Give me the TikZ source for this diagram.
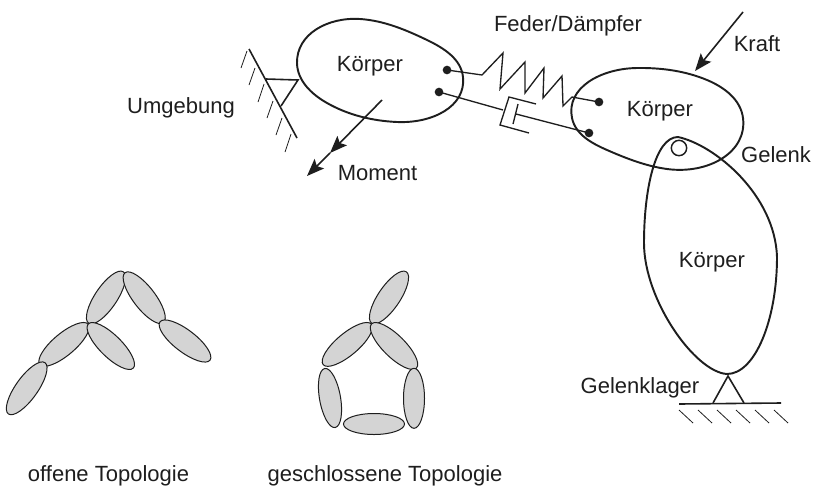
\documentclass[tikz,border=0pt]{standalone}
\usepackage{fontspec}
\setmainfont{Liberation Sans}
\usetikzlibrary{shapes.geometric,arrows.meta,hobby}
\definecolor{ink}{HTML}{1E1E1E}
\tikzset{
  x=0.75pt,y=-0.75pt,
  outline/.style={draw=ink,line width=1.45pt,line join=round},
  body/.style={outline,use Hobby shortcut,closed=true},
  thick line/.style={draw=ink,line width=1.2pt,line join=miter},
  mid line/.style={draw=ink,line width=1pt,line join=miter},
  hatch/.style={draw=ink,line width=0.6pt},
  lab/.style={text=ink,font=\fontsize{16.5}{18}\selectfont,anchor=base,inner sep=0pt},
  dot/.style={circle,fill=ink,draw=none,minimum size=6.5pt,inner sep=0pt},
  pin/.style={circle,draw=ink,line width=1.1pt,fill=none,minimum size=11.5pt,inner sep=0pt},
  lens/.style n args={3}{ellipse,draw=ink,line width=0.75pt,fill=black!17,inner sep=0pt,rotate=#1,minimum width=#2*0.75pt,minimum height=#3*0.75pt},
  tipa/.style={-{Stealth[length=13pt,width=10pt,inset=2.5pt]}},
}
\begin{document}
\begin{tikzpicture}
\useasboundingbox (0,0) rectangle (813,486);
% bodies
\draw[body] (297,63)..(360,19)..(427,40)..(463,77)..(397,122)..(327,103);
\draw[body] (572,118)..(637,68)..(707,80)..(743,118)..(667,169)..(607,150);
\draw[outline] (678,137) .. controls (715,145) and (775,195) .. (777,257)
  .. controls (777,320) and (755,374) .. (727,374)
  .. controls (695,372) and (644,300) .. (644,243)
  .. controls (644,190) and (655,137) .. (678,137) -- cycle;
% wall
\coordinate (w1) at (249,49); \coordinate (w2) at (297,138);
\coordinate (t1) at (266,79); \coordinate (t2) at (298,80); \coordinate (t3) at (281,106);
\draw[thick line] (w1) -- (w2);
\draw[thick line] (t1) -- (t2) -- (t3);
\foreach \a/\b/\c/\d in {247/51/241/68,255/68/249/85,264/84/258/102,273/101/267/118,282/118/276/135,291/134/285/152}
  \draw[hatch] (\a,\b) -- (\c,\d);
% moment
\coordinate (m0) at (382,100); \coordinate (m1) at (330,153); \coordinate (m2) at (307,176);
\draw[thick line,tipa] (m0) -- (m1);
\draw[thick line,tipa] (m1) -- (m2);
% force
\coordinate (f0) at (743,12); \coordinate (f1) at (695,71);
\draw[thick line,tipa] (f0) -- (f1);
% dots
\node[dot] (d1) at (447,70) {};
\node[dot] (d2) at (439,92) {};
\node[dot] (d3) at (599,102) {};
\node[dot] (d4) at (589,133) {};
% spring
\draw[mid line] (d1.center) -- (482,75) -- (503,53) -- (500,89) -- (525,62) -- (525,93) -- (544,68) -- (543,98) -- (562,76) -- (563,106) -- (572,97) -- (d3.center);
% damper
\coordinate (c1) at (503,110); \coordinate (c2) at (516,114);
\draw[mid line] (d2.center) -- (c1);
\draw[mid line] (536,104) -- (509,97) -- (500,125) -- (529,133);
\draw[mid line] (518,104) -- (513,124);
\draw[mid line] (c2) -- (d4.center);
% joint
\node[pin] (j) at (679,148) {};
% bearing
\coordinate (b0) at (728,376); \coordinate (b1) at (713,403); \coordinate (b2) at (744,403);
\coordinate (g1) at (679,404); \coordinate (g2) at (781,403);
\draw[thick line] (b1) -- (b0) -- (b2);
\draw[thick line] (g1) -- (g2);
\foreach \i in {0,...,5}
  \draw[hatch] ({679+19*\i},410) -- ({693+19*\i},423);
% open topology
\node[lens={56}{62}{22}] (o1) at (106,297.5) {};
\node[lens={-52.5}{63}{22}] (o2) at (144.2,297.7) {};
\node[lens={40}{63}{22}] (o3) at (64,344.4) {};
\node[lens={-44.6}{63}{22}] (o4) at (110.8,346) {};
\node[lens={-37.5}{63}{22}] (o5) at (185,341) {};
\node[lens={54.5}{63}{22}] (o6) at (26.7,388.3) {};
% closed topology
\node[lens={56}{62}{22}] (c-1) at (389,297.5) {};
\node[lens={40}{63}{22}] (c-2) at (347.3,344.4) {};
\node[lens={-44.6}{63}{22}] (c-3) at (394,346) {};
\node[lens={90}{60}{21}] (c-4) at (414,398.3) {};
\node[lens={0}{61}{21}] (c-5) at (374,424) {};
\node[lens={-80}{60}{21}] (c-6) at (330,398) {};
% labels
\node[lab] (k1) at (370,71) {Körper};
\node[lab] (k2) at (660,116) {Körper};
\node[lab] (k3) at (712,267) {Körper};
\node[lab] (um) at (181,113) {Umgebung};
\node[lab] (mo) at (377.5,180) {Moment};
\node[lab] (fd) at (568,31) {Feder/Dämpfer};
\node[lab] (kr) at (757,51) {Kraft};
\node[lab] (ge) at (776,162) {Gelenk};
\node[lab] (gl) at (640,393) {Gelenklager};
\node[lab] (ot) at (108.5,481) {offene Topologie};
\node[lab] (gt) at (385,481) {geschlossene Topologie};
\end{tikzpicture}
\end{document}
